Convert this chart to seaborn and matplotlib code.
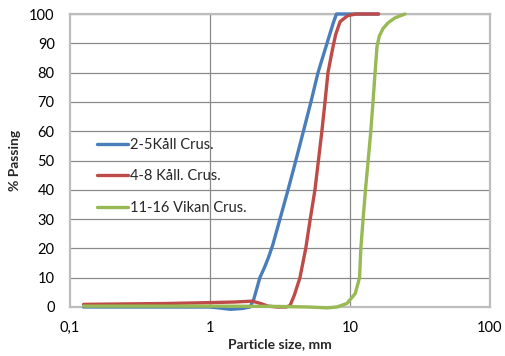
import matplotlib
matplotlib.use("Agg")
import matplotlib.pyplot as plt
import matplotlib.ticker as mticker
import seaborn as sns
import pandas as pd

# ---- data ----
series_names = ["2-5Kåll Crus.", "4-8 Kåll. Crus.", "11-16 Vikan Crus."]
series_colors = ["#4A7EBB", "#BE4B48", "#98B954"]

blue_x = [0.125, 1.0, 1.15, 1.4, 1.7, 1.93, 2.05, 2.15, 2.27, 2.45, 2.62, 2.8, 3.16, 3.61, 4.0, 4.62, 5.26, 5.91, 6.85, 7.6, 8.0, 11.2, 16.0]
blue_y = [0.0, 0.0, -0.3, -0.8, -0.5, 0.0, 2.5, 6.0, 10.0, 13.5, 17.0, 21.0, 30.0, 40.0, 48.0, 59.5, 70.0, 80.0, 90.0, 97.0, 100.0, 100.0, 100.0]

red_x = [0.125, 0.5, 1.0, 1.5, 2.0, 2.3, 2.6, 3.0, 3.5, 3.73, 4.0, 4.39, 4.83, 5.2, 5.62, 6.28, 6.63, 6.96, 7.5, 7.9, 8.5, 9.6, 11.0, 16.0]
red_y = [0.9, 1.2, 1.5, 1.7, 2.0, 1.2, 0.3, 0.0, 0.0, 0.5, 4.0, 10.0, 20.0, 30.0, 40.0, 59.5, 70.0, 80.0, 88.0, 93.0, 97.4, 99.4, 100.0, 100.0]

green_x = [0.125, 1.0, 3.0, 5.0, 6.9, 8.07, 9.5, 10.9, 11.7, 11.95, 12.4, 12.9, 14.05, 14.6, 15.1, 15.6, 16.2, 17.2, 18.7, 21.0, 24.7]
green_y = [0.3, 0.3, 0.2, 0.0, -0.3, 0.0, 1.2, 4.6, 10.0, 20.0, 30.0, 40.0, 59.5, 70.0, 80.0, 89.0, 92.5, 95.0, 97.0, 98.7, 100.0]

x_ticks = [0.1, 1, 10, 100]
x_tick_labels = ["0,1", "1", "10", "100"]
y_ticks = list(range(0, 101, 10))

frames = []
for name, xs, ys in zip(series_names, [blue_x, red_x, green_x], [blue_y, red_y, green_y]):
    frames.append(pd.DataFrame({"size": xs, "passing": ys, "series": name}))
df = pd.concat(frames, ignore_index=True)

# ---- plot ----
sns.set_style("white")
plt.rcParams["font.family"] = ["Lato", "DejaVu Sans"]

fig = plt.figure(figsize=(5.06, 3.56), dpi=100)
ax = fig.add_axes([70 / 506, 1 - 307 / 356, 420 / 506, 293 / 356])

grid_c = "#8a8a8a"
spine_c = "#bdbdbd"

sns.lineplot(data=df, x="size", y="passing", hue="series", hue_order=series_names,
             palette=series_colors, sort=False, estimator=None, units="series",
             linewidth=2.4, ax=ax, legend=True, zorder=3, clip_on=False)

ax.set_xscale("log")
ax.set_xlim(0.1, 100)
ax.set_ylim(0, 100)

ax.set_xticks(x_ticks)
ax.set_xticklabels(x_tick_labels)
ax.xaxis.set_minor_locator(mticker.LogLocator(base=10, subs=range(2, 10), numticks=20))
ax.xaxis.set_minor_formatter(mticker.NullFormatter())
ax.set_yticks(y_ticks)

ax.tick_params(axis="x", which="major", direction="out", length=5, width=1, color=spine_c,
               labelsize=10.5, labelcolor="#000000", pad=5)
ax.tick_params(axis="x", which="minor", direction="in", length=3, width=0.8, color=grid_c)
ax.tick_params(axis="y", which="major", direction="out", length=5, width=1, color=spine_c,
               labelsize=10.5, labelcolor="#000000", pad=6)

ax.grid(False)
for yv in y_ticks[1:]:
    ax.axhline(yv, color=grid_c, linewidth=0.9, zorder=1)
for xv in [1, 10]:
    ax.axvline(xv, color=grid_c, linewidth=0.9, zorder=1)

for s in ["left", "right", "top", "bottom"]:
    ax.spines[s].set_visible(True)
    ax.spines[s].set_color(spine_c)
    ax.spines[s].set_linewidth(1.6)
    ax.spines[s].set_zorder(2)

ax.set_xlabel("Particle size, mm", fontsize=10, fontweight="bold", labelpad=2)
ax.set_ylabel("% Passing", fontsize=10, fontweight="bold", labelpad=6)

leg = ax.legend(loc="upper left", bbox_to_anchor=(0.064, 0.578), frameon=False,
                fontsize=10.5, handlelength=2.1, handletextpad=0.2, labelspacing=1.2,
                borderpad=0, borderaxespad=0)
for line in leg.get_lines():
    line.set_linewidth(2.4)

fig.savefig("out.png", dpi=100)
